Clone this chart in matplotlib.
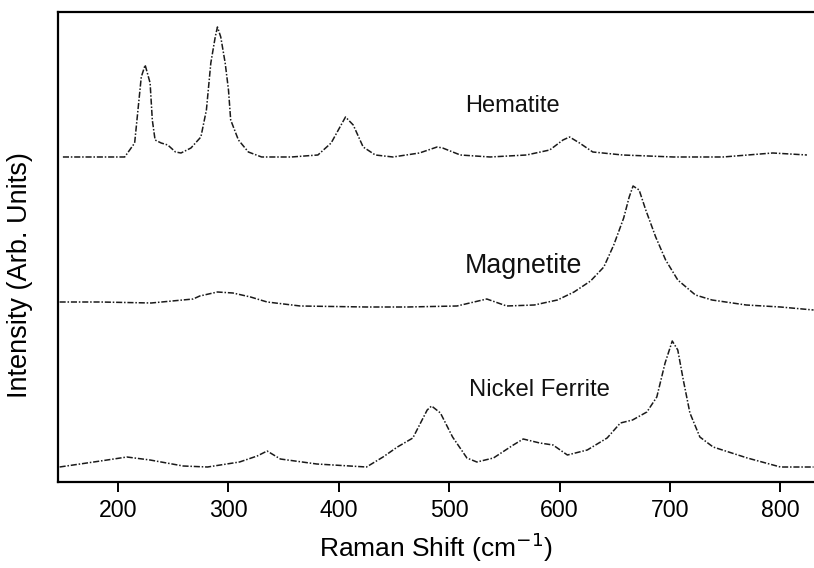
import matplotlib
matplotlib.use("Agg")
import matplotlib.pyplot as plt

plt.rcParams['font.family'] = ['Liberation Sans', 'DejaVu Sans']

# Raman shift (cm-1) and intensity (arb. units, offset stacked)
hem_x = [150, 180, 206, 215, 218, 221, 224.5, 229, 231, 233.5, 239, 245, 252, 257,
         266, 275, 280, 284, 288, 290, 293, 297, 300, 302, 309, 318, 330, 357,
         381, 393, 401, 406, 413, 422, 433, 449, 473, 489, 494, 510, 537, 570,
         591, 603, 609, 618, 630, 657, 703, 748, 793, 824]
hem_y = [325, 325, 325, 339, 372, 405, 417, 399, 362, 342, 339, 337, 330, 329,
         334, 345, 372, 419, 445, 455, 445, 419, 392, 362, 342, 330, 325, 325,
         327, 339, 355, 365, 357, 335, 327, 325, 329, 335, 334, 327, 325, 327,
         332, 342, 345, 339, 330, 327, 325, 325, 329, 327]

mag_x = [147, 184, 230, 268, 274, 290, 304, 320, 335, 365, 425, 462, 507, 534,
         552, 577, 598, 613, 628, 640, 649, 658, 663, 666.5, 672, 678, 687, 696,
         707, 723, 738, 769, 800, 830]
mag_y = [180, 180, 179, 183, 186, 190, 189, 185, 180, 176, 175, 175, 176, 183,
         176, 177, 182, 190, 201, 215, 237, 264, 285, 296, 292, 272, 245, 222,
         202, 187, 182, 177, 175, 172]

nif_x = [147, 184, 208, 229, 259, 281, 310, 326, 335, 347, 380, 425, 440, 453,
         467, 480, 484, 492, 503, 516, 525, 540, 558, 567, 582, 594, 607, 625,
         643, 655, 666, 679, 688, 695.5, 702, 707, 712, 718, 727, 739, 770, 800, 830]
nif_y = [15, 21, 25, 22, 16, 15, 20, 26, 31, 23, 18, 15, 25, 35,
         44, 72, 76, 69, 45, 24, 20, 24, 37, 43, 39, 37, 27, 32,
         44, 59, 62, 70, 85, 119, 141, 132, 102, 69, 45, 35, 24, 15, 15]

series = [
    (hem_x, hem_y, 'Hematite', 514, 370, 17),
    (mag_x, mag_y, 'Magnetite', 514, 209, 19.3),
    (nif_x, nif_y, 'Nickel Ferrite', 518, 86, 17.2),
]

fig = plt.figure(figsize=(8.14, 5.68), dpi=100)
ax = fig.add_axes([0.0713, 0.1514, 0.9287, 0.8275])

line_style = (0, (4, 1.2, 1, 1.2))
for xs, ys, name, lx, ly, fs in series:
    ax.plot(xs, ys, color='#1a1a1a', lw=1.1, linestyle=line_style)
    ax.text(lx, ly, name, fontsize=fs, ha='left', va='baseline', color='#111111')

ax.set_xlim(145.6, 830.4)
ax.set_ylim(0, 470)
ax.set_xticks([200, 300, 400, 500, 600, 700, 800])
ax.set_yticks([])
ax.tick_params(axis='x', direction='out', length=7, width=1.4, labelsize=16.7, pad=5)

for side in ['left', 'top', 'bottom']:
    ax.spines[side].set_linewidth(1.6)
ax.spines['right'].set_visible(False)

ax.set_xlabel('Raman Shift (cm$^{-1}$)', fontsize=19, labelpad=6)
ax.set_ylabel('Intensity (Arb. Units)', fontsize=19.5)
ax.yaxis.set_label_coords(-0.033, 0.44)

fig.savefig('out.png', dpi=100)
